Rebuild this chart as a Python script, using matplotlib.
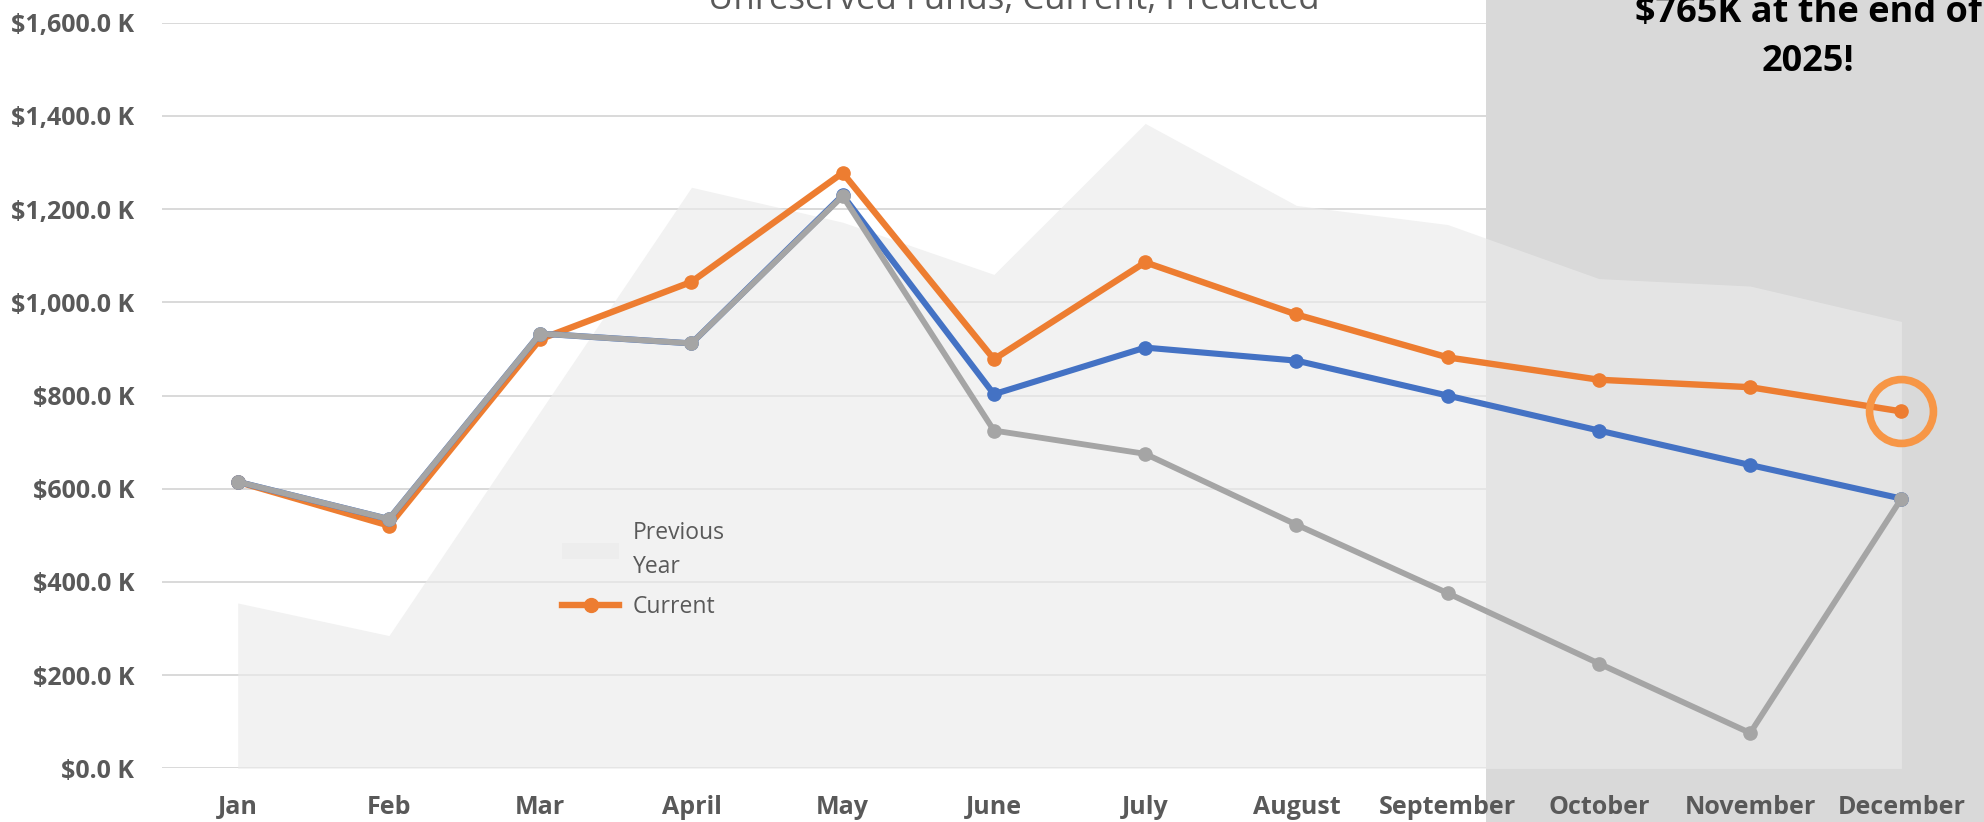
import matplotlib
matplotlib.use("Agg")
import matplotlib.pyplot as plt
from matplotlib.patches import Rectangle, Patch
from matplotlib.lines import Line2D

plt.rcParams['font.family'] = ['Open Sans', 'DejaVu Sans']

# -----------------------------
# Data (values in $K)
# -----------------------------
months = ["Jan", "Feb", "Mar", "April", "May", "June", "July",
          "August", "September", "October", "November", "December"]
previous_year = [355, 285, 766, 1247, 1172, 1060, 1384, 1208, 1167, 1051, 1035, 959]
current = [615, 521, 921, 1044, 1278, 878, 1086, 974, 882, 834, 818, 766]
predicted = [615, 535, 933, 912, 1230, 803, 903, 875, 800, 725, 651, 579]
worst_case = [615, 535, 933, 912, 1228, 725, 675, 523, 376, 225, 76, 579]
y_ticks = [0, 200, 400, 600, 800, 1000, 1200, 1400, 1600]

title = "Unreserved Funds, Current, Predicted"
callout = ["$765K at the end of", "2025!"]

# colours
ORANGE = "#ED7D31"
BLUE = "#4472C4"
GRAY = "#A5A5A5"
AREA = "#EBEBEB"
SHADE = "#D9D9D9"
TEXT = "#595959"

x = list(range(len(months)))

fig = plt.figure(figsize=(19.84, 8.22), dpi=100)
ax = fig.add_axes([0.0817, 0.0652, 0.9148, 0.9071])

# horizontal gridlines only, kept under the shaded block
ax.grid(axis="y", color="#D9D9D9", lw=1.4)
ax.yaxis.set_zorder(0.5)
ax.xaxis.set_zorder(6)

# forecast shading (Oct - Dec), runs past the axes
shade = Rectangle((8.255, -0.2), 6, 1.5, transform=ax.get_xaxis_transform(),
                  facecolor=SHADE, edgecolor="none", zorder=1, clip_on=False)
ax.add_patch(shade)

ax.fill_between(x, previous_year, color=AREA, alpha=0.65, lw=0, zorder=2)
ax.plot(x, current, color=ORANGE, lw=4.6, marker="o", ms=9.5, zorder=3)
ax.plot(x, predicted, color=BLUE, lw=4.4, marker="o", ms=9.5, zorder=4)
ax.plot(x, worst_case, color=GRAY, lw=4.2, marker="o", ms=9.5, zorder=5)

# ring round the final current value
ax.plot(x[-1], current[-1], marker="o", ms=46, mfc="none", mec="#F79646",
        mew=5.5, zorder=7, clip_on=False)

ax.set_xlim(-0.5, len(months) - 0.5)
ax.set_ylim(0, 1600)
ax.set_xticks(x)
ax.set_xticklabels(months)
ax.set_yticks(y_ticks)
ax.set_yticklabels([f"${v:,.1f} K" for v in y_ticks])
ax.tick_params(axis="both", length=0, labelsize=18, colors=TEXT)
ax.tick_params(axis="x", pad=19)
ax.tick_params(axis="y", pad=20)
for lab in ax.get_xticklabels() + ax.get_yticklabels():
    lab.set_fontweight("bold")
for s in ax.spines.values():
    s.set_visible(False)

handles = [Patch(facecolor=AREA, alpha=0.65, edgecolor="none"),
           Line2D([], [], color=ORANGE, lw=4.6, marker="o", ms=10)]
leg = ax.legend(handles, ["Previous\nYear", "Current"], loc="upper left",
                bbox_to_anchor=(0.214, 0.347), frameon=False, fontsize=16.5,
                labelcolor=TEXT, handlelength=2.5, handletextpad=0.6,
                borderpad=0, labelspacing=0.7)
leg.get_texts()[0].set_linespacing(1.55)

# title sits mostly above the canvas, as in the source
fig.text(0.511, 1 - 9 / 822, title, ha="center", va="baseline",
         fontsize=25, color=TEXT)
fig.text(1808 / 1984, 1 - 22 / 822, callout[0], ha="center", va="baseline",
         fontsize=26, fontweight="bold", color="black")
fig.text(1808 / 1984, 1 - 71 / 822, callout[1], ha="center", va="baseline",
         fontsize=26, fontweight="bold", color="black")

fig.savefig("out.png", dpi=100)
